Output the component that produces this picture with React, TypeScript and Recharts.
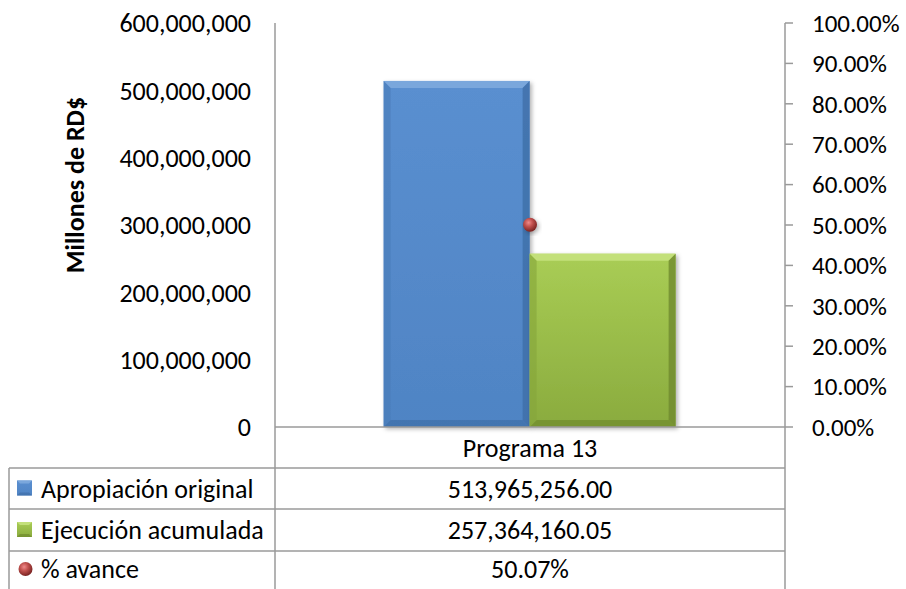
import { ComposedChart, Bar, Line, XAxis, YAxis } from "recharts";

const categories = ["Programa 13"];
const apropiacion = [513965256.0];
const ejecucion = [257364160.05];
const avance = [0.5007];

const leftTicks = [0, 100000000, 200000000, 300000000, 400000000, 500000000, 600000000];
const rightTicks = [0, 0.1, 0.2, 0.3, 0.4, 0.5, 0.6, 0.7, 0.8, 0.9, 1];

const seriesNames = ["Apropiación original", "Ejecución acumulada", "% avance"];
const axisTitle = "Millones de RD$";

const data = categories.map((name, i) => ({
  name,
  apropiacion: apropiacion[i],
  ejecucion: ejecucion[i],
  avance: avance[i],
}));

const FONT = "Carlito, Calibri, Lato, sans-serif";
const GRID = "#9a9a9a";
const FS = 26;

const fmtMoney = (v: number) =>
  v.toLocaleString("en-US", { minimumFractionDigits: 2, maximumFractionDigits: 2 });
const fmtPct = (v: number) => (v * 100).toFixed(2) + "%";

const BevelBar = (props: any) => {
  const { x, y, width, height, kind } = props;
  if (!height || height <= 0) return null;
  const b = 7;
  const pal =
    kind === "blue"
      ? { grad: "url(#gBlue)", light: "#7aa7dc", dark: "#3f6ea8", side: "#4a7bb8" }
      : { grad: "url(#gGreen)", light: "#c3e07a", dark: "#6f8a2e", side: "#86a53a" };
  return (
    <g filter="url(#shadow)">
      <rect x={x} y={y} width={width} height={height} fill={pal.grad} />
      <polygon
        points={`${x},${y} ${x + width},${y} ${x + width - b},${y + b} ${x + b},${y + b}`}
        fill={pal.light}
      />
      <polygon
        points={`${x + width},${y} ${x + width},${y + height} ${x + width - b},${y + height - b} ${x + width - b},${y + b}`}
        fill={pal.dark}
        opacity={0.8}
      />
      <polygon
        points={`${x},${y + height} ${x + width},${y + height} ${x + width - b},${y + height - b} ${x + b},${y + height - b}`}
        fill={pal.dark}
        opacity={0.7}
      />
      <polygon
        points={`${x},${y} ${x + b},${y + b} ${x + b},${y + height - b} ${x},${y + height}`}
        fill={pal.side}
        opacity={0.6}
      />
    </g>
  );
};

const SphereDot = (props: any) => {
  const { cx, cy } = props;
  if (cx == null || cy == null) return null;
  return <circle cx={cx} cy={cy} r={7} fill="url(#gRed)" filter="url(#shadow)" />;
};

const LegendSquare = ({ x, y, kind }: { x: number; y: number; kind: string }) => {
  const s = 15;
  const b = 3;
  const light = kind === "blue" ? "#7aa7dc" : "#c3e07a";
  const dark = kind === "blue" ? "#3f6ea8" : "#6f8a2e";
  return (
    <g>
      <rect x={x} y={y} width={s} height={s} fill={kind === "blue" ? "url(#gBlue)" : "url(#gGreen)"} />
      <polygon points={`${x},${y} ${x + s},${y} ${x + s - b},${y + b} ${x + b},${y + b}`} fill={light} />
      <polygon
        points={`${x},${y + s} ${x + s},${y + s} ${x + s - b},${y + s - b} ${x + b},${y + s - b}`}
        fill={dark}
        opacity={0.7}
      />
    </g>
  );
};

export default function App() {
  const plotL = 275;
  const plotR = 785;
  const base = 427;
  const rows = [468, 509, 551];
  const mid = (plotL + plotR) / 2;
  const values = [fmtMoney(apropiacion[0]), fmtMoney(ejecucion[0]), fmtPct(avance[0])];

  return (
    <div style={{ position: "absolute", left: 0, top: 0, width: 906, height: 589, background: "#fff" }}>
      <svg width={0} height={0} style={{ position: "absolute" }}>
        <defs>
          <linearGradient id="gBlue" x1="0" y1="0" x2="0" y2="1">
            <stop offset="0%" stopColor="#5a8fd0" />
            <stop offset="100%" stopColor="#4f84c4" />
          </linearGradient>
          <linearGradient id="gGreen" x1="0" y1="0" x2="0" y2="1">
            <stop offset="0%" stopColor="#a9cd55" />
            <stop offset="100%" stopColor="#8aab3e" />
          </linearGradient>
          <radialGradient id="gRed" cx="40%" cy="35%" r="65%">
            <stop offset="0%" stopColor="#f08a8a" />
            <stop offset="45%" stopColor="#c0504d" />
            <stop offset="100%" stopColor="#7a2322" />
          </radialGradient>
          <filter id="shadow" x="-20%" y="-20%" width="150%" height="150%">
            <feDropShadow dx="2" dy="2" stdDeviation="2" floodColor="#000" floodOpacity="0.3" />
          </filter>
        </defs>
      </svg>

      <ComposedChart
        width={906}
        height={589}
        data={data}
        margin={{ top: 23, right: 0, bottom: 161, left: 0 }}
        barCategoryGap="21.3%"
        barGap={0}
      >
        <XAxis
          dataKey="name"
          height={1}
          tick={false}
          tickLine={false}
          axisLine={{ stroke: GRID, strokeWidth: 1.5 }}
        />
        <YAxis
          yAxisId="left"
          width={275}
          domain={[0, 600000000]}
          ticks={leftTicks}
          tickLine={false}
          tickSize={8}
          tickMargin={16}
          axisLine={{ stroke: GRID, strokeWidth: 1.5 }}
          tickFormatter={(v: number) => v.toLocaleString("en-US")}
          tick={{ fill: "#000", fontSize: FS, fontFamily: FONT }}
        />
        <YAxis
          yAxisId="right"
          orientation="right"
          width={121}
          domain={[0, 1]}
          ticks={rightTicks}
          tickSize={8}
          tickMargin={19}
          tickLine={{ stroke: GRID, strokeWidth: 1.5 }}
          axisLine={{ stroke: GRID, strokeWidth: 1.5 }}
          tickFormatter={fmtPct}
          tick={{ fill: "#000", fontSize: 25, fontFamily: FONT, textAnchor: "start" }}
        />
        <Bar
          yAxisId="left"
          dataKey="apropiacion"
          name={seriesNames[0]}
          isAnimationActive={false}
          shape={(p: any) => <BevelBar {...p} kind="blue" />}
        />
        <Bar
          yAxisId="left"
          dataKey="ejecucion"
          name={seriesNames[1]}
          isAnimationActive={false}
          shape={(p: any) => <BevelBar {...p} kind="green" />}
        />
        <Line
          yAxisId="right"
          dataKey="avance"
          name={seriesNames[2]}
          stroke="none"
          isAnimationActive={false}
          dot={<SphereDot />}
          activeDot={false}
        />
      </ComposedChart>

      <svg
        width={906}
        height={589}
        style={{ position: "absolute", left: 0, top: 0, pointerEvents: "none" }}
      >
        <text
          x={75}
          y={185}
          transform="rotate(-90, 75, 185)"
          textAnchor="middle"
          dominantBaseline="central"
          fontSize={26}
          fontWeight="bold"
          fontFamily={FONT}
          fill="#000"
        >
          {axisTitle}
        </text>
        <line x1={plotL} y1={base} x2={plotL} y2={589} stroke={GRID} strokeWidth={1.5} />
        <line x1={plotR} y1={base} x2={plotR} y2={589} stroke={GRID} strokeWidth={1.5} />
        <line x1={9} y1={rows[0]} x2={9} y2={589} stroke={GRID} strokeWidth={1.5} />
        {rows.map((ry) => (
          <line key={ry} x1={9} y1={ry} x2={plotR} y2={ry} stroke={GRID} strokeWidth={1.5} />
        ))}
        <text
          x={mid}
          y={(base + rows[0]) / 2}
          textAnchor="middle"
          dominantBaseline="central"
          fontSize={FS}
          fontFamily={FONT}
          fill="#000"
        >
          {categories[0]}
        </text>
        {seriesNames.map((n, i) => {
          const top = rows[i];
          const bottom = i < 2 ? rows[i + 1] : 589;
          const cy = i < 2 ? (top + bottom) / 2 : 569;
          return (
            <g key={n}>
              {i < 2 ? (
                <LegendSquare x={17} y={cy - 8} kind={i === 0 ? "blue" : "green"} />
              ) : (
                <circle cx={25.5} cy={cy} r={7} fill="url(#gRed)" />
              )}
              <text x={41} y={cy} dominantBaseline="central" fontSize={FS} fontFamily={FONT} fill="#000">
                {n}
              </text>
              <text
                x={mid}
                y={cy}
                textAnchor="middle"
                dominantBaseline="central"
                fontSize={FS}
                fontFamily={FONT}
                fill="#000"
              >
                {values[i]}
              </text>
            </g>
          );
        })}
      </svg>
    </div>
  );
}
